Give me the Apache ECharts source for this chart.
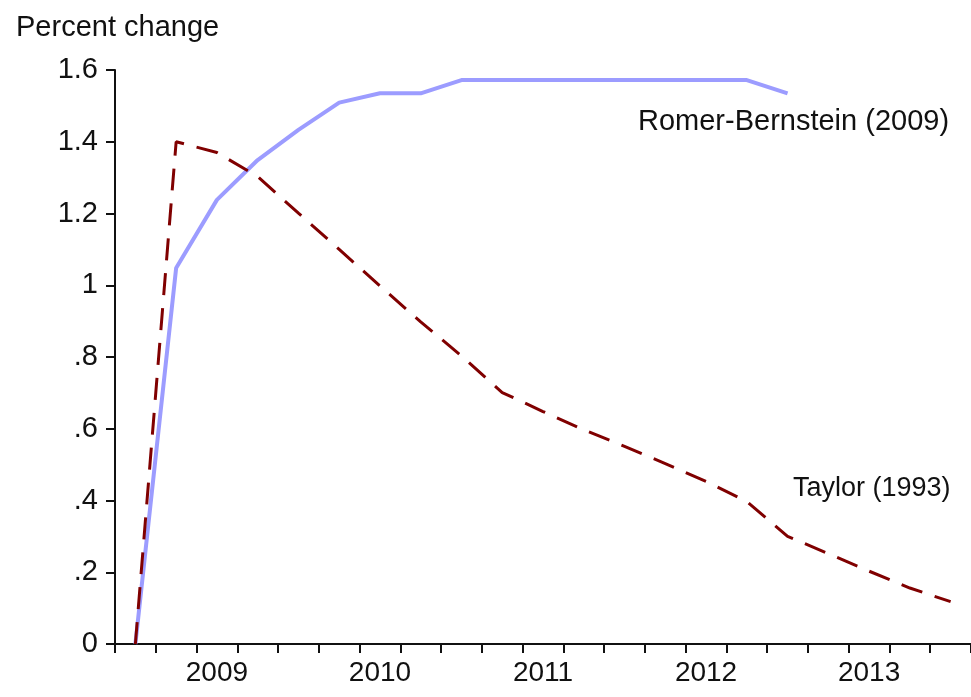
<!DOCTYPE html>
<html>
<head>
<meta charset="utf-8">
<script src="https://cdn.jsdelivr.net/npm/echarts@6/dist/echarts.min.js"></script>
<style>
html,body{margin:0;padding:0;background:#fff;}
#chart{width:971px;height:697px;}
</style>
</head>
<body>
<div id="chart"></div>
<script>
// Quarterly categories, 2008Q3 .. 2013Q3
const quarters = ['2008Q3','2008Q4',
  '2009Q1','2009Q2','2009Q3','2009Q4',
  '2010Q1','2010Q2','2010Q3','2010Q4',
  '2011Q1','2011Q2','2011Q3','2011Q4',
  '2012Q1','2012Q2','2012Q3','2012Q4',
  '2013Q1','2013Q2','2013Q3'];
const romerBernstein = [0, 1.048, 1.238, 1.349, 1.433, 1.509, 1.535, 1.535, 1.572, 1.572,
  1.572, 1.572, 1.572, 1.572, 1.572, 1.572, 1.535];
const taylor = [0, 1.40, 1.370, 1.303, 1.201, 1.100, 0.998, 0.898, 0.803, 0.701,
  0.648, 0.597, 0.551, 0.503, 0.453, 0.397, 0.300, 0.252, 0.203, 0.156, 0.118];
const yTicks = {min: 0, max: 1.6, interval: 0.2};
const yTitle = 'Percent change';
const rbName = 'Romer-Bernstein (2009)';
const taylorName = 'Taylor (1993)';

const FONT = '"Liberation Sans", Arial, sans-serif';
const FS = 29;
const chart = echarts.init(document.getElementById('chart'));
chart.setOption({
  animation: false,
  backgroundColor: '#ffffff',
  textStyle: {fontFamily: FONT},
  grid: {left: 115, top: 70, width: 858, height: 574, containLabel: false},
  title: {
    text: yTitle, left: 11, top: 8,
    textStyle: {fontFamily: FONT, fontSize: FS, fontWeight: 'normal', color: '#111'}
  },
  xAxis: {
    type: 'category',
    data: quarters,
    boundaryGap: true,
    axisLine: {lineStyle: {color: '#111', width: 2}},
    axisTick: {show: true, interval: 0, length: 9, lineStyle: {color: '#111', width: 2}},
    axisLabel: {
      interval: function (i) { return i % 4 === 2; },
      formatter: function (v) { return v.slice(0, 4); },
      margin: 15, fontSize: 28, color: '#111', fontFamily: FONT
    },
    splitLine: {show: false}
  },
  yAxis: {
    type: 'value',
    min: yTicks.min, max: yTicks.max, interval: yTicks.interval,
    axisLine: {show: true, lineStyle: {color: '#111', width: 2}},
    axisTick: {show: true, length: 9, lineStyle: {color: '#111', width: 2}},
    axisLabel: {
      margin: 17, fontSize: FS, color: '#111', fontFamily: FONT,
      formatter: function (v) {
        let s = (+v).toFixed(1);
        if (s.endsWith('.0')) s = s.slice(0, -2);
        if (s.startsWith('0.')) s = s.slice(1);
        return s;
      }
    },
    splitLine: {show: false}
  },
  series: [
    {
      name: rbName, type: 'line', data: romerBernstein,
      symbol: 'none', smooth: false,
      lineStyle: {color: '#9c9cff', width: 4}
    },
    {
      name: taylorName, type: 'line', data: taylor,
      symbol: 'none', smooth: false,
      lineStyle: {color: '#800000', width: 3, type: [22, 13]}
    }
  ],
  graphic: [
    {type: 'text', left: 638, top: 107,
     style: {text: rbName, font: FS + 'px ' + FONT, fill: '#111'}},
    {type: 'text', left: 793, top: 475,
     style: {text: taylorName, font: '27px ' + FONT, fill: '#111'}}
  ]
});
</script>
</body>
</html>
